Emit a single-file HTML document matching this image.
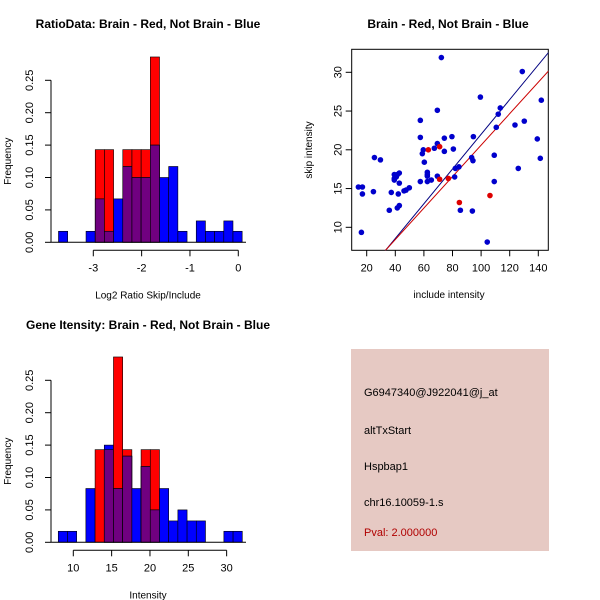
<!DOCTYPE html>
<html><head><meta charset="utf-8">
<style>
body{margin:0;background:#fff;}
svg{display:block;font-family:"Liberation Sans",sans-serif;}
</style></head>
<body>
<svg id="c" width="600" height="600" viewBox="0 0 600 600">
<rect x="0" y="0" width="600" height="600" fill="#fff"/>
<text x="148" y="28" font-size="12" font-weight="bold" text-anchor="middle">RatioData: Brain - Red, Not Brain - Blue</text>
<text x="448" y="28" font-size="12" font-weight="bold" text-anchor="middle">Brain - Red, Not Brain - Blue</text>
<text x="148" y="329" font-size="12" font-weight="bold" text-anchor="middle">Gene Itensity: Brain - Red, Not Brain - Blue</text>
<g id="g1"></g>
<g id="g2"></g>
<g id="g3"></g>
<g>
<rect x="351" y="349" width="198" height="202" fill="#e6c9c3"/>
<text x="364" y="396" font-size="11">G6947340@J922041@j_at</text>
<text x="364" y="434" font-size="11">altTxStart</text>
<text x="364" y="470" font-size="11">Hspbap1</text>
<text x="364" y="506" font-size="11">chr16.10059-1.s</text>
<text x="364" y="536" font-size="11" fill="#b00000">Pval: 2.000000</text>
</g>
</svg>
<script>
// Ratio histogram data
const ratioBinStart = -3.72, ratioBinWidth = 0.19;
const ratioBlue = [0.017,0,0,0.017,0.067,0.017,0.067,0.117,0.10,0.10,0.15,0.10,0.117,0.017,0,0.033,0.017,0.017,0.033,0.017];
const ratioRed  = [0,0,0,0,0.143,0.143,0,0.143,0.143,0.143,0.286,0,0,0,0,0,0,0,0,0];
const ratioXTicks = [-3,-2,-1,0];
const freqTicks = [0,0.05,0.10,0.15,0.20,0.25];
const freqTickLabels = ["0.00","0.05","0.10","0.15","0.20","0.25"];
// Intensity histogram data
const intBinStart = 8.04, intBinWidth = 1.2;
const intBlue = [0.017,0.017,0,0.083,0,0.15,0.083,0.133,0.083,0.117,0.05,0.083,0.033,0.05,0.033,0.033,0,0,0.017,0.017];
const intRed  = [0,0,0,0,0.143,0.143,0.286,0.143,0,0.143,0.143,0,0,0,0,0,0,0,0,0];
const intXTicks = [10,15,20,25,30];
// Scatter data
const blueX = [14.2,17,17,16.3,24.7,25.4,29.6,35.8,37.2,39.3,39.3,39.3,40.7,41.4,42.8,41.4,42.8,42.1,42.8,46.1,47.5,49.8,57.5,57.5,57.5,58.9,59.6,60.3,62.4,62.4,62.4,62.4,65.2,67.3,69.4,69.4,69.4,72.2,74.3,74.3,79.6,80.6,81.5,82,84.5,85.5,93.4,93.9,94.3,94.6,99.5,104.3,109.2,109.2,110.6,112,113.4,123.7,126,128.8,130.2,139.3,141.4,142.1];
const blueY = [15.2,15.2,14.3,9.35,14.6,19.0,18.7,12.2,14.5,16.8,16.3,16.1,16.5,16.8,17.0,12.5,12.8,14.3,15.7,14.7,14.8,15.1,23.8,21.6,15.9,19.5,20.0,18.4,15.9,17.1,16.8,16.6,16.1,20.2,25.1,20.8,16.6,31.9,19.8,21.5,21.7,20.1,16.5,17.6,17.8,12.2,19.0,12.1,18.6,21.7,26.8,8.1,19.3,15.9,22.9,24.6,25.4,23.2,17.6,30.1,23.7,21.4,18.9,26.4];
const redX = [63.1,71,71,77.1,84.8,106.2];
const redY = [20.0,20.4,16.2,16.3,13.2,14.1];
const blueLine = [-0.4,0.224]; // intercept, slope
const redLine = [0.3,0.203];
const scXTicks = [20,40,60,80,100,120,140];
const scYTicks = [10,15,20,25,30];

const NS="http://www.w3.org/2000/svg";
function mk(parent,tag,attrs,text){const e=document.createElementNS(NS,tag);for(const k in attrs)e.setAttribute(k,attrs[k]);if(text!==undefined)e.textContent=text;parent.appendChild(e);return e;}

function hist(g,binStart,binW,blue,red,xTicks,xLab,x0px,xScale,y0px){
  const sx=v=>x0px+(v-xTicks[0])*xScale;
  const sy=v=>y0px-v*648;
  const ya=mk(g,'g',{});
  
  
  mk(ya,'line',{x1:51,x2:51,y1:sy(0),y2:sy(0.25),stroke:'#000'});
  freqTicks.forEach((t,i)=>{mk(ya,'line',{x1:45,x2:51,y1:sy(t),y2:sy(t),stroke:'#000'});
    const tx=mk(ya,'text',{x:0,y:0,'font-size':11,'text-anchor':'middle',transform:`translate(33,${sy(t)}) rotate(-90)`},freqTickLabels[i]);
    
    });
  const yt=mk(g,'text',{x:0,y:0,'font-size':10,'text-anchor':'middle',transform:`translate(11,${sy(0.125)}) rotate(-90)`},'Frequency');
  
  
  for(let i=0;i<blue.length;i++){
    const l=sx(binStart+i*binW), r=sx(binStart+(i+1)*binW);
    const b=blue[i], rd=red[i], m=Math.min(b,rd);
    if(rd>0){const e=mk(g,'rect',{x:l,y:sy(rd),width:r-l,height:sy(0)-sy(rd),fill:'#ff0000',stroke:'#000','stroke-width':0.6});
      
      }
    if(b>0){const e=mk(g,'rect',{x:l,y:sy(b),width:r-l,height:sy(0)-sy(b),fill:'#0000ff',stroke:'#000','stroke-width':0.6});
      
      }
    if(m>0){const e=mk(g,'rect',{x:l,y:sy(m),width:r-l,height:sy(0)-sy(m),fill:'#700080',stroke:'#000','stroke-width':0.6});
      
      }
  }
  mk(g,'line',{x1:51,x2:246,y1:sy(0),y2:sy(0),stroke:'#000'});
  const xa=mk(g,'g',{});
  
  
  const ay=y0px+8;
  mk(xa,'line',{x1:sx(xTicks[0]),x2:sx(xTicks[xTicks.length-1]),y1:ay,y2:ay,stroke:'#000'});
  xTicks.forEach(t=>{mk(xa,'line',{x1:sx(t),x2:sx(t),y1:ay,y2:ay+6,stroke:'#000'});
    const tx=mk(xa,'text',{x:sx(t),y:ay+21,'font-size':11,'text-anchor':'middle'},String(t));
    
    });
  const xt=mk(g,'text',{x:148,y:y0px+56,'font-size':10,'text-anchor':'middle'},xLab);
  
  
}
hist(document.getElementById('g1'),ratioBinStart,ratioBinWidth,ratioBlue,ratioRed,ratioXTicks,'Log2 Ratio Skip/Include',93.3,48.33,242.3);
hist(document.getElementById('g3'),intBinStart,intBinWidth,intBlue,intRed,intXTicks,'Intensity',73.3,7.667,542.3);

(function(){
  const g=document.getElementById('g2');
  const sx=v=>366.7+(v-20)*1.43;
  const sy=v=>227.3-(v-10)*7.75;
  const L=351.7,R=548.3,T=49.3,B=250.3;
  mk(g,'rect',{x:L,y:T,width:R-L,height:B-T,fill:'none',stroke:'#000'});
  const cp=mk(g,'clipPath',{id:'cp'});mk(cp,'rect',{x:L,y:T,width:R-L,height:B-T});
  const xa=mk(g,'g',{});
  
  
  scXTicks.forEach(t=>{mk(xa,'line',{x1:sx(t),x2:sx(t),y1:B,y2:B+6,stroke:'#000'});
    const tx=mk(xa,'text',{x:sx(t),y:B+21,'font-size':11,'text-anchor':'middle'},String(t));
    
    });
  const ya=mk(g,'g',{});
  
  
  scYTicks.forEach(t=>{mk(ya,'line',{x1:L-6,x2:L,y1:sy(t),y2:sy(t),stroke:'#000'});
    const tx=mk(ya,'text',{x:0,y:0,'font-size':11,'text-anchor':'middle',transform:`translate(${L-10},${sy(t)}) rotate(-90)`},String(t));
    
    });
  const xt=mk(g,'text',{x:449,y:298,'font-size':10,'text-anchor':'middle'},'include intensity');
  
  
  const yt=mk(g,'text',{x:0,y:0,'font-size':10,'text-anchor':'middle',transform:`translate(312,150) rotate(-90)`},'skip intensity');
  
  
  const lg=mk(g,'g',{'clip-path':'url(#cp)'});
  const x1=0,x2=160;
  const bl=mk(lg,'line',{x1:sx(x1),x2:sx(x2),y1:sy(blueLine[0]+blueLine[1]*x1),y2:sy(blueLine[0]+blueLine[1]*x2),stroke:'#000080'});
  
  
  const rl=mk(lg,'line',{x1:sx(x1),x2:sx(x2),y1:sy(redLine[0]+redLine[1]*x1),y2:sy(redLine[0]+redLine[1]*x2),stroke:'#cc0000'});
  
  
  blueX.forEach((x,i)=>{const c=mk(g,'circle',{cx:sx(x),cy:sy(blueY[i]),r:2.8,fill:'#0000cc'});
    
    });
  redX.forEach((x,i)=>{const c=mk(g,'circle',{cx:sx(x),cy:sy(redY[i]),r:2.8,fill:'#dd0000'});
    
    });
})();
</script>
</body></html>
